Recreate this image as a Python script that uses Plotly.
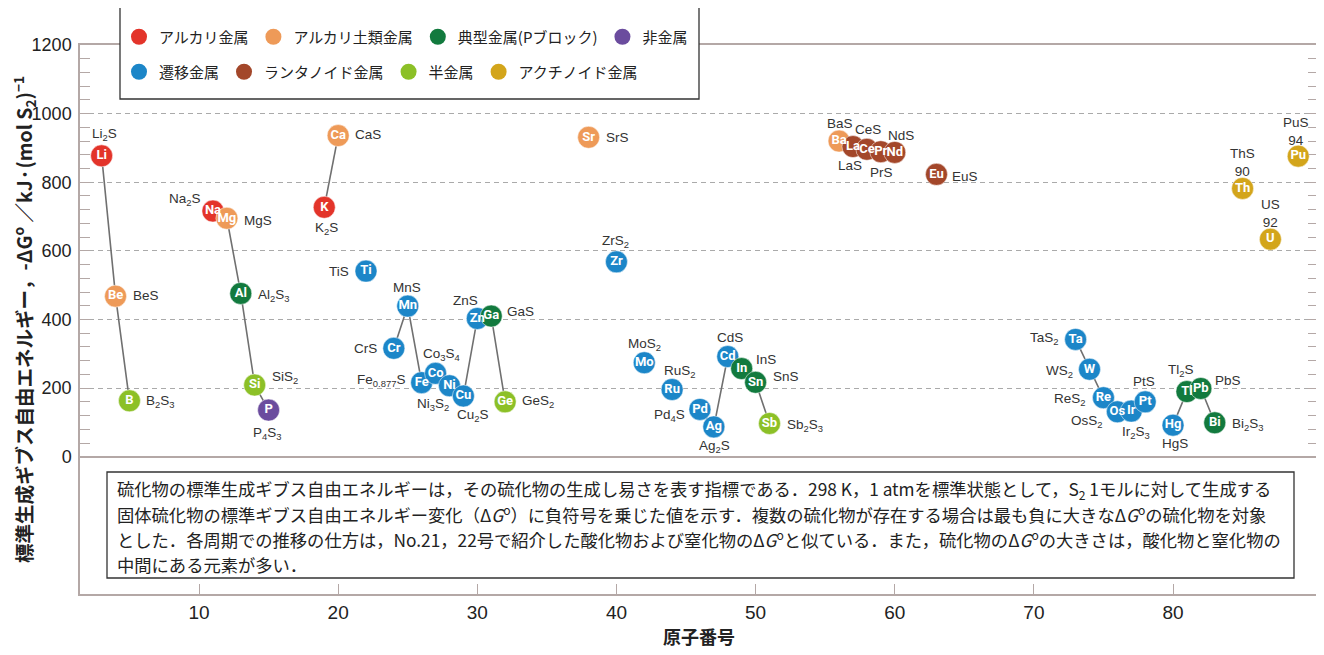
import plotly.graph_objects as go

# ---------------- data ----------------
symbols = ["Li", "Be", "B", "Na", "Mg", "Al", "Si", "P", "K", "Ca",
           "Ti", "Cr", "Mn", "Fe", "Co", "Ni", "Cu", "Zn", "Ga", "Ge",
           "Sr", "Zr", "Mo", "Ru", "Pd", "Ag", "Cd", "In", "Sn", "Sb",
           "Ba", "La", "Ce", "Pr", "Nd", "Eu",
           "Ta", "W", "Re", "Os", "Ir", "Pt", "Hg", "Tl", "Pb", "Bi",
           "Th", "U", "Pu"]
atomic_numbers = [3, 4, 5, 11, 12, 13, 14, 15, 19, 20,
                  22, 24, 25, 26, 27, 28, 29, 30, 31, 32,
                  38, 40, 42, 44, 46, 47, 48, 49, 50, 51,
                  56, 57, 58, 59, 60, 63,
                  73, 74, 75, 76, 77, 78, 80, 81, 82, 83,
                  90, 92, 94]
neg_delta_g = [877, 468, 163, 716, 695, 476, 209, 136, 727, 936,
               541, 316, 439, 216, 243, 207, 177, 403, 410, 160,
               931, 568, 274, 196, 138, 87, 292, 257, 217, 97,
               920, 904, 896, 889, 887, 823,
               342, 255, 172, 131, 133, 160, 92, 190, 199, 99,
               782, 634, 876]
sulfides = ["Li<sub>2</sub>S", "BeS", "B<sub>2</sub>S<sub>3</sub>", "Na<sub>2</sub>S", "MgS",
            "Al<sub>2</sub>S<sub>3</sub>", "SiS<sub>2</sub>", "P<sub>4</sub>S<sub>3</sub>", "K<sub>2</sub>S", "CaS",
            "TiS", "CrS", "MnS", "Fe<sub>0.877</sub>S", "Co<sub>3</sub>S<sub>4</sub>",
            "Ni<sub>3</sub>S<sub>2</sub>", "Cu<sub>2</sub>S", "ZnS", "GaS", "GeS<sub>2</sub>",
            "SrS", "ZrS<sub>2</sub>", "MoS<sub>2</sub>", "RuS<sub>2</sub>", "Pd<sub>4</sub>S",
            "Ag<sub>2</sub>S", "CdS", "InS", "SnS", "Sb<sub>2</sub>S<sub>3</sub>",
            "BaS", "LaS", "CeS", "PrS", "NdS", "EuS",
            "TaS<sub>2</sub>", "WS<sub>2</sub>", "ReS<sub>2</sub>", "OsS<sub>2</sub>", "Ir<sub>2</sub>S<sub>3</sub>",
            "PtS", "HgS", "Tl<sub>2</sub>S", "PbS", "Bi<sub>2</sub>S<sub>3</sub>",
            "ThS", "US", "PuS"]
categories = ["alkali", "alkaline", "semi", "alkali", "alkaline", "pblock", "semi", "nonmetal", "alkali", "alkaline",
              "transition", "transition", "transition", "transition", "transition",
              "transition", "transition", "transition", "pblock", "semi",
              "alkaline", "transition", "transition", "transition", "transition",
              "transition", "transition", "pblock", "pblock", "semi",
              "alkaline", "lanthanide", "lanthanide", "lanthanide", "lanthanide", "lanthanide",
              "transition", "transition", "transition", "transition", "transition",
              "transition", "transition", "pblock", "pblock", "pblock",
              "actinide", "actinide", "actinide"]

category_names = {
    "alkali": "アルカリ金属",
    "alkaline": "アルカリ土類金属",
    "pblock": "典型金属(Pブロック)",
    "nonmetal": "非金属",
    "transition": "遷移金属",
    "lanthanide": "ランタノイド金属",
    "semi": "半金属",
    "actinide": "アクチノイド金属",
}
legend_row1 = ["alkali", "alkaline", "pblock", "nonmetal"]
legend_row2 = ["transition", "lanthanide", "semi", "actinide"]

x_tick_values = [10, 20, 30, 40, 50, 60, 70, 80]
y_tick_values = [0, 200, 400, 600, 800, 1000, 1200]

x_title = "原子番号"
y_title = "標準生成ギブス自由エネルギー，-ΔG<sup>o</sup> ／kJ·(mol S<sub>2</sub>)<sup>−1</sup>"
note_lines = [
    "硫化物の標準生成ギブス自由エネルギーは，その硫化物の生成し易さを表す指標である．298 K，1 atmを標準状態として，S<sub>2</sub> 1モルに対して生成する",
    "固体硫化物の標準ギブス自由エネルギー変化（Δ<i>G</i><sup>o</sup>）に負符号を乗じた値を示す．複数の硫化物が存在する場合は最も負に大きなΔ<i>G</i><sup>o</sup>の硫化物を対象",
    "とした．各周期での推移の仕方は，No.21，22号で紹介した酸化物および窒化物のΔ<i>G</i><sup>o</sup>と似ている．また，硫化物のΔ<i>G</i><sup>o</sup>の大きさは，酸化物と窒化物の",
    "中間にある元素が多い．",
]

# ---------------- styles ----------------
colors = {
    "alkali": "#e3342a",
    "alkaline": "#ee9a58",
    "pblock": "#127a3e",
    "nonmetal": "#6b4c9e",
    "transition": "#1c86c8",
    "lanthanide": "#a3472a",
    "semi": "#8cc027",
    "actinide": "#d3a51b",
}
draw_order = ["alkali", "alkaline", "transition", "lanthanide", "pblock", "semi", "nonmetal", "actinide"]
ACTINIDE_AXIS_SHIFT = 5  # axis break: actinides drawn 5 units to the left

# label placement (xanchor, xshift px, yshift px up)
label_style = {
    "Li": ("center", 3, 21), "Be": ("left", 15, 1), "B": ("left", 15, -1),
    "Na": ("center", -28, 12), "Mg": ("left", 15, -2), "Al": ("left", 15, -2),
    "Si": ("left", 15, 8), "P": ("center", -1, -23), "K": ("center", 2, -21),
    "Ca": ("left", 15, 1), "Ti": ("right", -15, 0), "Cr": ("right", -15, 0),
    "Mn": ("center", -1, 19), "Fe": ("right", -15, 2), "Co": ("center", 6, 19),
    "Ni": ("center", -16, -19), "Cu": ("center", 10, -19), "Zn": ("center", -12, 18),
    "Ga": ("left", 14, 5), "Ge": ("left", 15, 0), "Sr": ("left", 15, 0),
    "Zr": ("center", -1, 20), "Mo": ("center", 0, 18), "Ru": ("center", 8, 18),
    "Pd": ("right", -13, -6), "Ag": ("center", 1, -20), "Cd": ("center", 2, 19),
    "In": ("left", 12, 9), "Sn": ("left", 15, 6), "Sb": ("left", 15, -2),
    "Ba": ("center", 1, 18), "La": ("center", -3, -19), "Ce": ("center", 1, 20),
    "Pr": ("center", 1, -21), "Nd": ("center", 6, 17), "Eu": ("left", 14, -2),
    "Ta": ("right", -15, 1), "W": ("right", -15, -2), "Re": ("right", -15, -2),
    "Os": ("right", -12, -10), "Ir": ("center", 5, -21), "Pt": ("center", -1, 20),
    "Hg": ("center", 2, -18), "Tl": ("center", -6, 21), "Pb": ("left", 12, 8),
    "Bi": ("left", 15, -2), "Th": ("center", 0, 26), "U": ("center", 0, 26),
    "Pu": ("center", -2, 25),
}

JP = "Noto Sans CJK JP"
LAT = "Liberation Sans, Arial, sans-serif"
FRAME = "#b4a8a6"

# page geometry (the figure div sits 8 px from the page corner)
PAGE_OFF = 8
W, H = 1324 - PAGE_OFF, 655 - PAGE_OFF
PLOT_L, PLOT_R, PLOT_T, PLOT_B = 80, 1318, 45, 594          # page px
L, R = PLOT_L - PAGE_OFF, 1324 - PLOT_R
T, B = PLOT_T - PAGE_OFF, (655 - PAGE_OFF) - (PLOT_B - PAGE_OFF)
PW, PH = W - L - R, H - T - B


def px_x(px):
    return (px - PLOT_L) / PW


def px_y(py):
    return (PLOT_B - py) / PH


def plot_x(z, cat):
    return z - ACTINIDE_AXIS_SHIFT if cat == "actinide" else z


fig = go.Figure()

# connecting lines between consecutive atomic numbers
lx, ly = [], []
prev = None
for s, z, v, c in zip(symbols, atomic_numbers, neg_delta_g, categories):
    if c == "actinide":
        continue
    if prev is not None and z - prev != 1:
        lx.append(None)
        ly.append(None)
    lx.append(z)
    ly.append(v)
    prev = z
fig.add_trace(go.Scatter(x=lx, y=ly, mode="lines", line=dict(color="#707070", width=1.6),
                         showlegend=False, hoverinfo="skip"))

# element markers
for cat in draw_order:
    idx = [i for i, c in enumerate(categories) if c == cat]
    fig.add_trace(go.Scatter(
        x=[plot_x(atomic_numbers[i], cat) for i in idx],
        y=[neg_delta_g[i] for i in idx],
        mode="markers",
        marker=dict(size=22, color=colors[cat], line=dict(color="rgba(255,255,255,0.5)", width=1)),
        showlegend=False,
        name=category_names[cat],
    ))

# element symbols drawn on top of all circles
fig.add_trace(go.Scatter(
    x=[plot_x(z, c) for z, c in zip(atomic_numbers, categories)],
    y=neg_delta_g,
    mode="text",
    text=["<b>%s</b>" % s for s in symbols],
    textposition="middle center",
    textfont=dict(family="Roboto, Liberation Sans, Arial", size=13, color="white"),
    showlegend=False,
    hoverinfo="skip",
))

# legend entries (two rows = two legends)
for cat in legend_row1:
    fig.add_trace(go.Scatter(x=[None], y=[None], mode="markers", name=category_names[cat],
                             marker=dict(size=16, color=colors[cat]), legend="legend"))
for cat in legend_row2:
    fig.add_trace(go.Scatter(x=[None], y=[None], mode="markers", name=category_names[cat],
                             marker=dict(size=16, color=colors[cat]), legend="legend2"))

annotations = []
for s, z, v, c, lab in zip(symbols, atomic_numbers, neg_delta_g, categories, sulfides):
    xa, xs, ys = label_style[s]
    text = lab + ("<br>%d" % z if c == "actinide" else "")
    annotations.append(dict(x=plot_x(z, c), y=v, xref="x", yref="y", text=text, showarrow=False,
                            xanchor=xa, yanchor="middle", xshift=xs, yshift=ys,
                            font=dict(family=LAT, size=13.5, color="#333333")))

line_centers = [489, 514, 539, 564]
for txt, cy in zip(note_lines, line_centers):
    annotations.append(dict(x=px_x(115), y=px_y(cy), xref="paper", yref="paper", text=txt,
                            showarrow=False, xanchor="left", yanchor="middle",
                            font=dict(family=JP, size=17.3, color="#222222")))

# y-axis title
annotations.append(dict(x=px_x(24), y=px_y(320), xref="paper", yref="paper", text="<b>%s</b>" % y_title,
                        showarrow=False, textangle=-90, xanchor="center", yanchor="middle",
                        font=dict(family=JP, size=19.5, color="#222222")))

shapes = [
    dict(type="rect", xref="paper", yref="paper", x0=px_x(120), x1=px_x(699), y0=px_y(99), y1=px_y(7),
         line=dict(color="#333333", width=1.3), fillcolor="white", layer="above"),
    dict(type="rect", xref="paper", yref="paper", x0=px_x(107), x1=px_x(1294), y0=px_y(578), y1=px_y(472),
         line=dict(color="#333333", width=1.3), fillcolor="white", layer="above"),
]

minor_vals = [v for v in range(0, 1201, 40) if v % 200 != 0]

legend_common = dict(orientation="h", xref="container", yref="container", xanchor="left",
                     yanchor="middle", bgcolor="rgba(0,0,0,0)", borderwidth=0, itemwidth=30,
                     font=dict(family=JP, size=15, color="#222222"))

fig.update_layout(
    width=W, height=H,
    margin=dict(l=L, r=R, t=T, b=B, autoexpand=False),
    plot_bgcolor="white", paper_bgcolor="white",
    showlegend=True,
    legend=dict(x=(119 - PAGE_OFF) / W, y=1 - (37 - PAGE_OFF) / H, **legend_common),
    legend2=dict(x=(119 - PAGE_OFF) / W, y=1 - (72 - PAGE_OFF) / H, **legend_common),
    annotations=annotations,
    shapes=shapes,
    xaxis=dict(
        range=[1.445, 90.42], tickmode="array", tickvals=x_tick_values,
        ticks="inside", ticklen=10, tickcolor=FRAME, tickwidth=1.3,
        showline=True, linecolor=FRAME, linewidth=1.5, mirror=True,
        showgrid=False, zeroline=False,
        tickfont=dict(family=LAT, size=19, color="#222222"), ticklabelstandoff=0,
        title=dict(text="<b>%s</b>" % x_title, font=dict(family=JP, size=18, color="#222222"), standoff=10),
    ),
    yaxis=dict(
        range=[-400, 1200], tickmode="array", tickvals=y_tick_values,
        ticks="inside", ticklen=10, tickcolor=FRAME, tickwidth=1.3,
        showline=True, linecolor=FRAME, linewidth=1.5, mirror="ticks",
        showgrid=True, gridcolor="#aaaaaa", gridwidth=1, griddash="5px,4px",
        zeroline=True, zerolinecolor=FRAME, zerolinewidth=1.5,
        minor=dict(tickmode="array", tickvals=minor_vals, ticks="inside", ticklen=10,
                   tickcolor=FRAME, tickwidth=1.2, showgrid=False),
        tickfont=dict(family=LAT, size=18, color="#222222"),
        ticklabelstandoff=3,
    ),
)

fig.write_html("out.html")
